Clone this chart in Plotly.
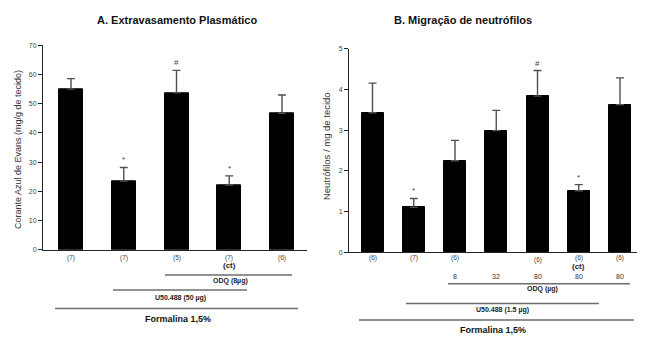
import plotly.graph_objects as go

# The page body has an 8px margin, so the figure is placed at (8, 8) in the window.
OFF = 8
W, H = 656 - OFF, 338 - OFF

# ---------------- data ----------------
a_groups = [0, 1, 2, 3, 4]
a_means = [55.0, 23.5, 53.7, 22.2, 46.7]
a_errs = [3.6, 4.7, 7.7, 3.1, 6.3]
a_n = ["(7)", "(7)", "(5)", "(7)", "(6)"]
a_marks = ["", "*", "#", "*", ""]
a_yticks = [0, 10, 20, 30, 40, 50, 60, 70]

b_groups = [0, 1, 2, 3, 4, 5, 6]
b_means = [3.43, 1.10, 2.25, 2.99, 3.84, 1.51, 3.63]
b_errs = [0.73, 0.22, 0.50, 0.50, 0.63, 0.15, 0.66]
b_n = ["(6)", "(7)", "(6)", "", "(6)", "(6)", "(6)"]
b_marks = ["", "*", "", "", "#", "*", ""]
b_doses = ["", "", "8", "32", "80", "80", "80"]
b_yticks = [0, 1, 2, 3, 4, 5]

FONT = "Liberation Sans"


def py(ypx):
    return 1 - (ypx - OFF) / H


def px(xpx):
    return (xpx - OFF) / W


fig = go.Figure()

err_style = dict(type="data", symmetric=False, color="#505050", thickness=1.4, width=4)

fig.add_trace(go.Bar(
    x=a_groups, y=a_means, width=0.455, xaxis="x", yaxis="y",
    marker=dict(color="black", line=dict(color="black", width=1)),
    error_y=dict(array=a_errs, arrayminus=[0] * len(a_errs), **err_style),
    showlegend=False, hoverinfo="skip"))

fig.add_trace(go.Bar(
    x=b_groups, y=b_means, width=0.533, xaxis="x2", yaxis="y2",
    marker=dict(color="black", line=dict(color="black", width=1)),
    error_y=dict(array=b_errs, arrayminus=[0] * len(b_errs), **err_style),
    showlegend=False, hoverinfo="skip"))

axis_common = dict(showgrid=False, zeroline=False, showline=True, linecolor="#222",
                   linewidth=1, ticks="outside", ticklen=4, tickcolor="#222",
                   tickfont=dict(family=FONT, size=7, color="#444"))

fig.update_layout(
    width=W, height=H, margin=dict(l=0, r=0, t=0, b=0),
    paper_bgcolor="white", plot_bgcolor="white",
    bargap=0,
    xaxis=dict(domain=[px(43), px(307)], range=[-0.531, 4.474], showticklabels=False,
               showgrid=False, zeroline=False, showline=True, linecolor="#222", linewidth=1,
               ticks="", anchor="y"),
    yaxis=dict(domain=[py(251), py(42)], range=[0, 70], tickvals=a_yticks, anchor="x",
               **axis_common),
    xaxis2=dict(domain=[px(349), px(637)], range=[-0.570, 6.412], showticklabels=False,
                showgrid=False, zeroline=False, showline=True, linecolor="#222", linewidth=1,
                ticks="", anchor="y2"),
    yaxis2=dict(domain=[py(253.3), py(45.8)], range=[0, 5], tickvals=b_yticks, anchor="x2",
                **axis_common),
)

ann = []
shapes = []


def text(x, y, s, size=7, bold=False, color="#333", xref="paper", yref="paper",
         xanchor="center", yanchor="middle", **kw):
    ann.append(dict(x=x, y=y, xref=xref, yref=yref, text=("<b>%s</b>" % s) if bold else s,
                    showarrow=False, xanchor=xanchor, yanchor=yanchor,
                    font=dict(family=FONT, size=size, color=color), **kw))


# titles
text(px(177), py(16), "A. Extravasamento Plasmático", size=11, bold=True, color="#111")
text(px(463), py(16), "B. Migração de neutrófilos", size=11, bold=True, color="#111")

# y-axis titles
text(px(18), py(149), "Corante Azul de Evans (mg/g de tecido)", size=9, color="#333", textangle=-90)
text(px(326), py(145), "Neutrófilos / mg de tecido", size=9.5, color="#333", textangle=-90)

# significance markers
for g, m, e, s in zip(a_groups, a_means, a_errs, a_marks):
    if s:
        text(g, m + e, s, size=8, color="#444", xref="x", yref="y", yanchor="bottom", yshift=1)
for g, m, e, s in zip(b_groups, b_means, b_errs, b_marks):
    if s:
        text(g, m + e, s, size=8, color="#444", xref="x2", yref="y2", yanchor="bottom", yshift=1)

# n labels
for g, s in zip(a_groups, a_n):
    text(g, py(259), s, size=6.5, color="#444", xref="x")
for g, s in zip(b_groups, b_n):
    if s:
        yy = 261.5 if g == 4 else 259
        text(g, py(yy), s, size=6.5, color="#444", xref="x2")

# (ct) labels
text(3, py(267.5), "(ct)", size=8, bold=True, color="#222", xref="x")
text(5, py(268.5), "(ct)", size=8, bold=True, color="#222", xref="x2")

# doses in B
for g, s in zip(b_groups, b_doses):
    if s:
        text(g, py(278.5), s, size=7, color="#333", xref="x2")

line_style = dict(color="#6e6e6e", width=1.5)


def hline(x0, x1, y):
    shapes.append(dict(type="line", xref="paper", yref="paper", x0=px(x0), x1=px(x1),
                       y0=py(y), y1=py(y), line=line_style))


# panel A group lines
hline(165, 292, 276.7)
text(px(230), py(282.5), "ODQ (8µg)", size=7, bold=True, color="#222")
hline(113, 247, 292)
text(px(180), py(300.5), "U50.488 (50 µg)", size=7, bold=True, color="#222")
hline(55, 298, 311)
text(px(178), py(322), "Formalina 1,5%", size=9, bold=True, color="#111")

# panel B group lines
hline(448, 630, 285.7)
text(px(542), py(291.5), "ODQ (µg)", size=7, bold=True, color="#222")
hline(406, 599, 305.7)
text(px(503), py(312), "U50.488 (1.5 µg)", size=7, bold=True, color="#222")
hline(359, 634, 322.7)
text(px(493), py(332.5), "Formalina 1,5%", size=9, bold=True, color="#111")

fig.update_layout(annotations=ann, shapes=shapes)

fig.write_html("out.html")
